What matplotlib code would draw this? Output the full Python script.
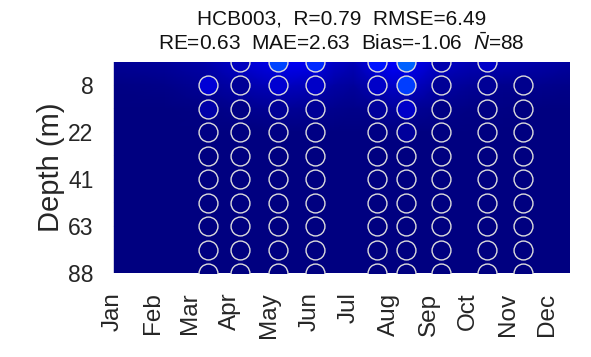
import numpy as np
import matplotlib
matplotlib.use("Agg")
import matplotlib.pyplot as plt

plt.rcParams['font.family'] = ['Liberation Sans', 'DejaVu Sans']
plt.rcParams['mathtext.fontset'] = 'custom'
plt.rcParams['mathtext.rm'] = 'Liberation Sans'
plt.rcParams['mathtext.it'] = 'Liberation Sans:italic'

# ---- data ----
month_labels = ['Jan', 'Feb', 'Mar', 'Apr', 'May', 'Jun', 'Jul', 'Aug', 'Sep', 'Oct', 'Nov', 'Dec']
month_days = [0, 31, 59, 90, 120, 151, 181, 212, 243, 273, 304, 334]
depth_tick_rows = [2, 4, 6, 8, 10]
depth_tick_labels = ['8', '22', '41', '63', '88']
n_rows = 10

# modelled field: knot days and values for the top three rows (rest ~0)
field_days = [1, 40, 70, 95, 115, 135, 155, 170, 185, 200, 215, 230, 250, 275, 300, 330, 352]
field_row1 = [0.8, 1.0, 1.5, 2.5, 3.5, 4.2, 4.0, 2.5, 2.0, 3.5, 4.5, 4.0, 2.5, 2.0, 1.8, 1.5, 1.2]
field_row2 = [0.3, 0.4, 0.8, 1.5, 2.0, 2.2, 2.0, 1.3, 1.0, 1.8, 2.6, 2.4, 1.3, 0.8, 0.6, 0.5, 0.4]
field_row3 = [0.1, 0.1, 0.3, 0.5, 0.7, 0.8, 0.7, 0.5, 0.4, 0.6, 1.0, 0.9, 0.5, 0.3, 0.2, 0.1, 0.1]
field_row4 = [0.0] * len(field_days)

# observations: day of year and values per row (NaN = no sample)
obs_days = [73, 98, 127, 155, 203, 225, 252, 288, 315]
nan = np.nan
obs_values = [
    [nan, 2.2, 7.8, 6.6, 5.8, 8.9, 1.6, 2.5, nan],
    [3.0, 0.8, 2.9, 2.5, 2.5, 7.4, 0.8, 0.8, 0.6],
    [1.5, 0.3, 0.9, 0.8, 1.0, 2.5, 0.2, 0.2, 0.1],
    [0.2, 0.0, 0.2, 0.2, 0.2, 1.0, 0.0, 0.0, 0.0],
    [0.0, 0.0, 0.0, 0.0, 0.0, 0.0, 0.0, 0.0, 0.0],
    [0.0, 0.0, 0.0, 0.0, 0.0, 0.0, 0.0, 0.0, 0.0],
    [0.0, 0.0, 0.0, 0.0, 0.0, 0.0, 0.0, 0.0, 0.0],
    [0.0, 0.0, 0.0, 0.0, 0.0, 0.0, 0.0, 0.0, 0.0],
    [0.0, 0.0, 0.0, 0.0, 0.0, 0.0, 0.0, 0.0, 0.0],
    [0.0, 0.0, 0.0, 0.0, 0.0, 0.0, 0.0, 0.0, 0.0],
]
vmin, vmax = 0.0, 40.0

# ---- figure ----
fig = plt.figure(figsize=(5.91, 3.57), dpi=100)
ax = fig.add_axes([113/591, 1 - 273/357, (570-113)/591, (273-62)/357])

rows = np.arange(1, n_rows + 1)
Z = np.array([field_row1, field_row2, field_row3] + [field_row4] * (n_rows - 3))
ax.pcolormesh(field_days, rows, Z, shading='gouraud', cmap='jet', vmin=vmin, vmax=vmax)

obs = np.array(obs_values)
for j, d in enumerate(obs_days):
    for i in range(n_rows):
        v = obs[i, j]
        if np.isnan(v):
            continue
        ax.scatter([d], [rows[i]], s=185, c=[v], cmap='jet', vmin=vmin, vmax=vmax,
                   edgecolors='#dcdcdc', linewidths=1.0, zorder=3, clip_on=True)

ax.set_xlim(1, 351.5)
ax.set_ylim(n_rows, 1)
ax.set_xticks(month_days)
ax.set_xticklabels(month_labels, rotation=90, fontsize=17.5, color='#262626')
ax.set_yticks(depth_tick_rows)
ax.set_yticklabels(depth_tick_labels, fontsize=16.5, color='#262626')
ax.tick_params(axis='both', length=0)
ax.tick_params(axis='x', pad=14)
ax.tick_params(axis='y', pad=14)
for s in ax.spines.values():
    s.set_visible(False)
ax.set_ylabel('Depth (m)', fontsize=21, color='#262626', labelpad=2)

ax.set_title('HCB003,  R=0.79  RMSE=6.49\nRE=0.63  MAE=2.63  Bias=-1.06  $\\bar{N}$=88',
             fontsize=15, color='#111111', linespacing=1.15, pad=9)

fig.savefig('out.png', dpi=100)
